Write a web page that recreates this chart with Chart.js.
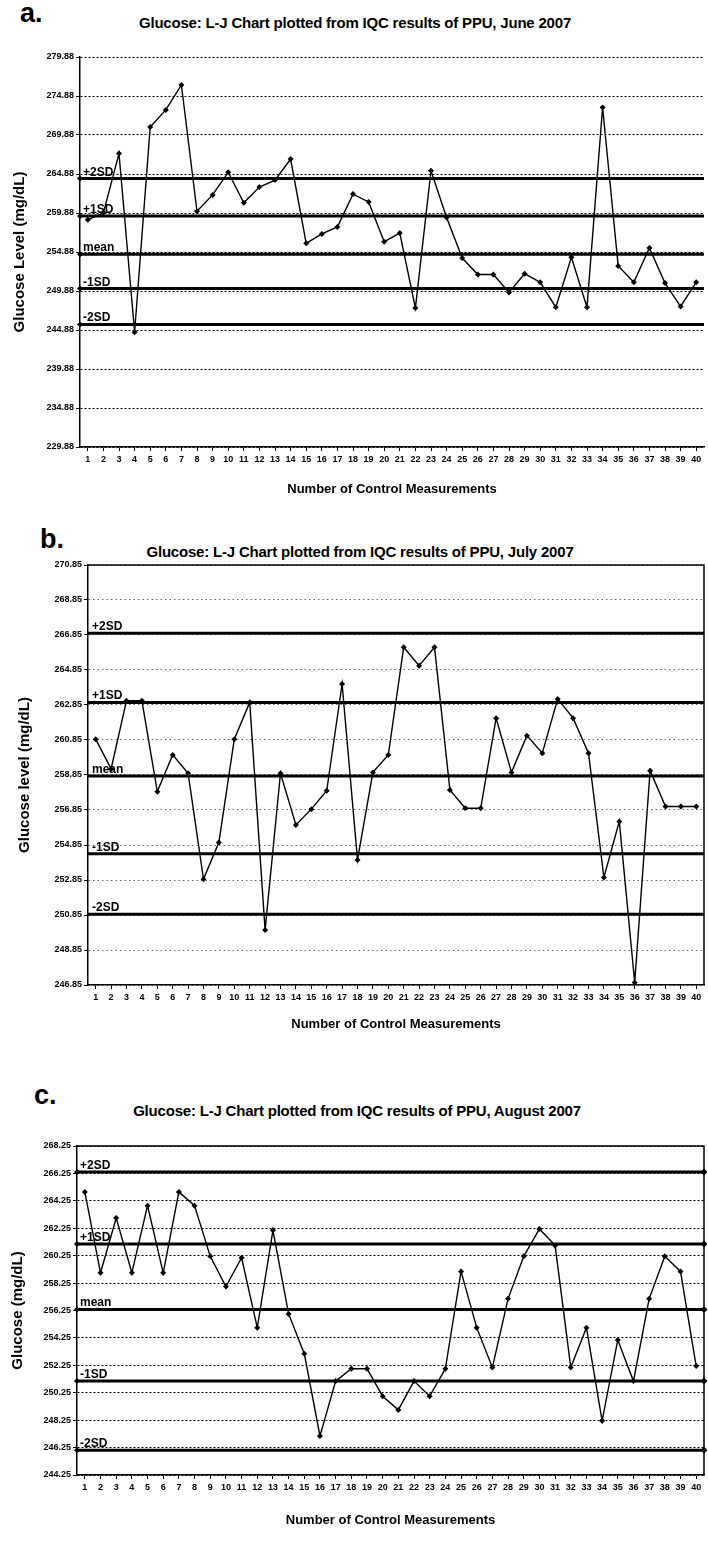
<!DOCTYPE html>
<html><head><meta charset="utf-8">
<script src="https://cdn.jsdelivr.net/npm/chart.js@4.4.0/dist/chart.umd.min.js"></script>
<style>
html,body{margin:0;padding:0;background:#fff;}
#page{position:relative;width:708px;height:1557px;overflow:hidden;font-family:'Liberation Sans',Arial,sans-serif;}
.lab{position:absolute;font-weight:bold;color:#000;line-height:1;}
.ttl{position:absolute;font-weight:bold;font-size:15px;white-space:nowrap;transform:translateX(-50%);line-height:1;color:#000;letter-spacing:-0.2px;}
canvas{position:absolute;left:0;}
</style></head><body><div id="page">
<div class="lab" style="left:20px;top:0px;font-size:27px">a.</div>
<div class="ttl" style="left:355px;top:15px">Glucose: L-J Chart plotted from IQC results of PPU, June 2007</div>
<div class="lab" style="left:40px;top:526px;font-size:27px">b.</div>
<div class="ttl" style="left:360px;top:544px">Glucose: L-J Chart plotted from IQC results of PPU, July 2007</div>
<div class="lab" style="left:34px;top:1082px;font-size:27px">c.</div>
<div class="ttl" style="left:357px;top:1103px">Glucose: L-J Chart plotted from IQC results of PPU, August 2007</div>
<canvas id="ca"></canvas>
<canvas id="cb"></canvas>
<canvas id="cc"></canvas>
</div>
<script>
// ---- data ----
const categories = ['1','2','3','4','5','6','7','8','9','10','11','12','13','14','15','16','17','18','19','20',
  '21','22','23','24','25','26','27','28','29','30','31','32','33','34','35','36','37','38','39','40'];
const sdNames = ['+2SD','+1SD','mean','-1SD','-2SD'];

const juneValues = [259.0, 259.9, 267.5, 244.6, 270.9, 273.1, 276.3, 260.1, 262.2, 265.1,
  261.2, 263.2, 264.1, 266.8, 256.0, 257.2, 258.1, 262.3, 261.3, 256.2,
  257.3, 247.7, 265.3, 259.3, 254.1, 252.0, 252.0, 249.7, 252.1, 251.0,
  247.8, 254.2, 247.8, 273.4, 253.1, 251.0, 255.4, 250.9, 247.9, 251.0];
const juneSD = [264.3, 259.5, 254.6, 250.2, 245.6];
const juneTicks = [229.88, 234.88, 239.88, 244.88, 249.88, 254.88, 259.88, 264.88, 269.88, 274.88, 279.88];

const julyValues = [260.9, 259.2, 263.1, 263.1, 257.9, 260.0, 258.95, 252.9, 255.0, 260.9,
  263.0, 250.0, 258.95, 256.0, 256.9, 257.95, 264.05, 254.0, 259.0, 260.0,
  266.15, 265.1, 266.15, 258.0, 256.95, 256.95, 262.1, 259.0, 261.1, 260.1,
  263.2, 262.1, 260.1, 253.0, 256.2, 247.0, 259.1, 257.05, 257.05, 257.05];
const julySD = [266.95, 263.0, 258.8, 254.35, 250.9];
const julyTicks = [246.85, 248.85, 250.85, 252.85, 254.85, 256.85, 258.85, 260.85, 262.85, 264.85, 266.85, 268.85, 270.85];

const augustValues = [264.9, 259.0, 263.0, 259.0, 263.9, 259.0, 264.9, 263.9, 260.2, 258.0,
  260.1, 255.0, 262.1, 256.0, 253.1, 247.1, 251.1, 252.0, 252.0, 250.0,
  249.0, 251.1, 250.0, 252.0, 259.1, 255.0, 252.1, 257.1, 260.2, 262.2,
  261.0, 252.1, 255.0, 248.2, 254.1, 251.1, 257.1, 260.2, 259.1, 252.2];
const augustSD = [266.35, 261.1, 256.33, 251.1, 246.05];
const augustTicks = [244.25, 246.25, 248.25, 250.25, 252.25, 254.25, 256.25, 258.25, 260.25, 262.25, 264.25, 266.25, 268.25];

// ---- plugin: SD reference lines ----
function diamond(ctx, x, y, r) {
  ctx.beginPath();
  ctx.moveTo(x, y - r); ctx.lineTo(x + r, y); ctx.lineTo(x, y + r); ctx.lineTo(x - r, y);
  ctx.closePath(); ctx.fill();
}
const ljRefs = {
  id: 'ljRefs',
  beforeDatasetsDraw(chart, args, o) {
    const {ctx, chartArea: a, scales: {y}} = chart;
    ctx.save();
    ctx.strokeStyle = '#000';
    ctx.lineWidth = o.width || 3;
    o.values.forEach(v => {
      const py = y.getPixelForValue(v);
      ctx.beginPath(); ctx.moveTo(a.left, py); ctx.lineTo(a.right, py); ctx.stroke();
    });
    ctx.restore();
  },
  afterDatasetsDraw(chart, args, o) {
    const {ctx, chartArea: a, scales: {y}} = chart;
    ctx.save();
    ctx.fillStyle = '#000';
    ctx.font = 'bold 12px "Liberation Sans", Arial, sans-serif';
    ctx.textBaseline = 'alphabetic';
    o.values.forEach((v, i) => {
      const py = y.getPixelForValue(v);
      ctx.fillText(o.names[i], a.left + (o.labelDx || 3), py - 3);
      if (o.leftMarkers) diamond(ctx, a.left, py, 3);
      if (o.rightMarkers) diamond(ctx, a.right, py, 3.5);
    });
    if (o.box) {
      ctx.strokeStyle = '#000'; ctx.lineWidth = 1.5;
      ctx.beginPath();
      ctx.moveTo(a.left, a.top); ctx.lineTo(a.right, a.top); ctx.lineTo(a.right, a.bottom);
      ctx.stroke();
    }
    ctx.restore();
  }
};

function makeChart(id, c) {
  const cv = document.getElementById(id);
  cv.style.top = c.top + 'px';
  cv.style.width = '708px';
  cv.style.height = c.height + 'px';
  cv.width = 708; cv.height = c.height;
  const ticks = c.ticks;
  return new Chart(cv, {
    type: 'line',
    data: {
      labels: categories,
      datasets: [{
        data: c.values,
        borderColor: '#000',
        backgroundColor: '#000',
        borderWidth: 1.4,
        pointStyle: 'rectRot',
        pointRadius: 3,
        pointBorderWidth: 0,
        tension: 0
      }]
    },
    options: {
      responsive: false,
      animation: false,
      devicePixelRatio: 1,
      layout: {padding: {left: 0, right: c.padRight, top: c.padTop, bottom: 0}},
      plugins: {
        legend: {display: false},
        tooltip: {enabled: false},
        ljRefs: {values: c.sd, names: sdNames, box: c.box, leftMarkers: c.leftMarkers,
                 rightMarkers: c.rightMarkers, labelDx: c.labelDx}
      },
      scales: {
        x: {
          type: 'category',
          offset: true,
          grid: {display: true, drawOnChartArea: false, drawTicks: true, tickLength: 4, color: '#000', tickColor: '#000'},
          border: {display: true, color: '#000', width: 1.5},
          ticks: {autoSkip: false, maxRotation: 0, minRotation: 0, padding: 3, color: '#000',
                  font: {size: 9, weight: 'bold', family: '"Liberation Sans", Arial, sans-serif'}},
          title: {display: true, text: 'Number of Control Measurements', color: '#000',
                  font: {size: 13, weight: 'bold', family: '"Liberation Sans", Arial, sans-serif'},
                  padding: {top: 4, bottom: 4}},
          afterFit: s => { s.height = c.xHeight; }
        },
        y: {
          type: 'linear',
          min: ticks[0],
          max: ticks[ticks.length - 1],
          afterBuildTicks: s => { s.ticks = ticks.map(v => ({value: v})); },
          grid: {color: c.gridColor, lineWidth: 1, drawTicks: true, tickLength: 4, tickColor: '#000'},
          border: {display: true, color: '#000', width: 1.5, dash: c.gridDash},
          ticks: {padding: 2, color: '#000', callback: v => Number(v).toFixed(2),
                  font: {size: 9, weight: 'bold', family: '"Liberation Sans", Arial, sans-serif'}},
          title: {display: true, text: c.yTitle, color: '#000',
                  font: {size: 15, weight: 'bold', family: '"Liberation Sans", Arial, sans-serif'},
                  padding: {top: c.yTitlePad, bottom: 0}},
          afterFit: s => { s.width = c.yWidth; }
        }
      }
    },
    plugins: [ljRefs]
  });
}

makeChart('ca', {top: 30, height: 471, padTop: 27, padRight: 2, xHeight: 54, yWidth: 80, yTitlePad: 11,
  values: juneValues, sd: juneSD, ticks: juneTicks, yTitle: 'Glucose Level (mg/dL)',
  gridColor: '#000', gridDash: [2, 2], box: false, leftMarkers: true, rightMarkers: false, labelDx: 3});
makeChart('cb', {top: 540, height: 496, padTop: 25, padRight: 1, xHeight: 51, yWidth: 88, yTitlePad: 16,
  values: julyValues, sd: julySD, ticks: julyTicks, yTitle: 'Glucose level (mg/dL)',
  gridColor: '#666', gridDash: [1.5, 3], box: true, leftMarkers: false, rightMarkers: false, labelDx: 4});
makeChart('cc', {top: 1120, height: 412, padTop: 26, padRight: 4, xHeight: 57, yWidth: 77, yTitlePad: 9,
  values: augustValues, sd: augustSD, ticks: augustTicks, yTitle: 'Glucose (mg/dL)',
  gridColor: '#000', gridDash: [2, 2], box: true, leftMarkers: true, rightMarkers: true, labelDx: 3});
</script>
</body></html>
